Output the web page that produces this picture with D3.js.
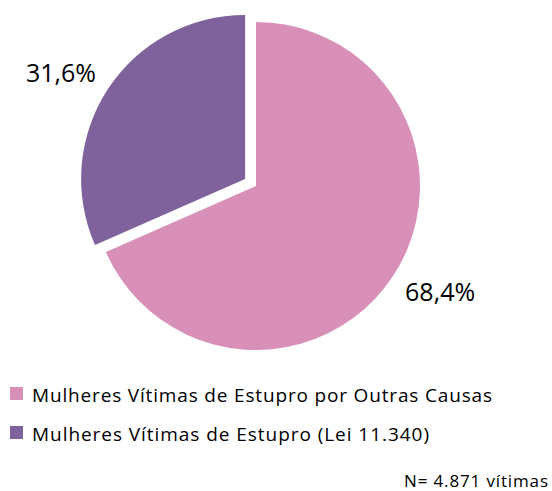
<!DOCTYPE html>
<html>
<head>
<meta charset="utf-8">
<script src="https://cdn.jsdelivr.net/npm/d3@7"></script>
<style>
  body { margin: 0; background: #fff; }
  svg { display: block; font-family: "Open Sans", Lato, sans-serif; }
</style>
</head>
<body>
<script>
/* Data */
var categories = ["Mulheres Vítimas de Estupro por Outras Causas", "Mulheres Vítimas de Estupro (Lei 11.340)"];
var values = [68.4, 31.6];
var valueLabels = ["68,4%", "31,6%"];
var colors = ["#d890b8", "#7f619b"];
var exploded = [0, 1];
var note = "N= 4.871 vítimas";

/* Chart */
var width = 552, height = 491;
var cx = 256, cy = 186, radius = 164, explodeDist = 13;
var legendTextWidths = [460, 397]; // text in the original is set wider than Open Sans
var noteWidth = 144;

var svg = d3.select("body")
    .append("svg")
    .attr("width", width)
    .attr("height", height);

var pie = d3.pie().sort(null).value(function(d) { return d; });
var arcs = pie(values);

var arc = d3.arc().innerRadius(0).outerRadius(radius);
var labelArc = d3.arc().innerRadius(radius + 14).outerRadius(radius + 14);

function offset(d, i) {
    var a = (d.startAngle + d.endAngle) / 2;
    var k = exploded[i] ? explodeDist : 0;
    return [cx + Math.sin(a) * k, cy - Math.cos(a) * k];
}

var slice = svg.selectAll(".slice")
    .data(arcs)
    .enter()
    .append("g")
    .attr("class", "slice")
    .attr("transform", function(d, i) {
        var o = offset(d, i);
        return "translate(" + o[0] + "," + o[1] + ")";
    });

slice.append("path")
    .attr("d", arc)
    .attr("fill", function(d, i) { return colors[i]; });

slice.append("text")
    .attr("x", function(d) { return labelArc.centroid(d)[0]; })
    .attr("y", function(d) { return labelArc.centroid(d)[1]; })
    .attr("dy", function(d) { return labelArc.centroid(d)[1] > 0 ? "0.72em" : "0"; })
    .attr("text-anchor", function(d) { return labelArc.centroid(d)[0] > 0 ? "start" : "end"; })
    .attr("font-size", 25)
    .attr("fill", "#000")
    .text(function(d, i) { return valueLabels[i]; });

/* Legend */
var legend = svg.selectAll(".legend")
    .data(categories)
    .enter()
    .append("g")
    .attr("class", "legend")
    .attr("transform", function(d, i) { return "translate(10," + (387 + i * 39) + ")"; });

legend.append("rect")
    .attr("width", 13)
    .attr("height", 13)
    .attr("fill", function(d, i) { return colors[i]; });

legend.append("text")
    .attr("x", 22)
    .attr("y", 14.5)
    .attr("font-size", 19)
    .attr("textLength", function(d, i) { return legendTextWidths[i]; })
    .attr("lengthAdjust", "spacing")
    .attr("fill", "#000")
    .text(function(d) { return d; });

svg.append("text")
    .attr("x", 548)
    .attr("y", 487)
    .attr("text-anchor", "end")
    .attr("font-size", 17)
    .attr("textLength", noteWidth)
    .attr("lengthAdjust", "spacing")
    .attr("fill", "#000")
    .text(note);
</script>
</body>
</html>
